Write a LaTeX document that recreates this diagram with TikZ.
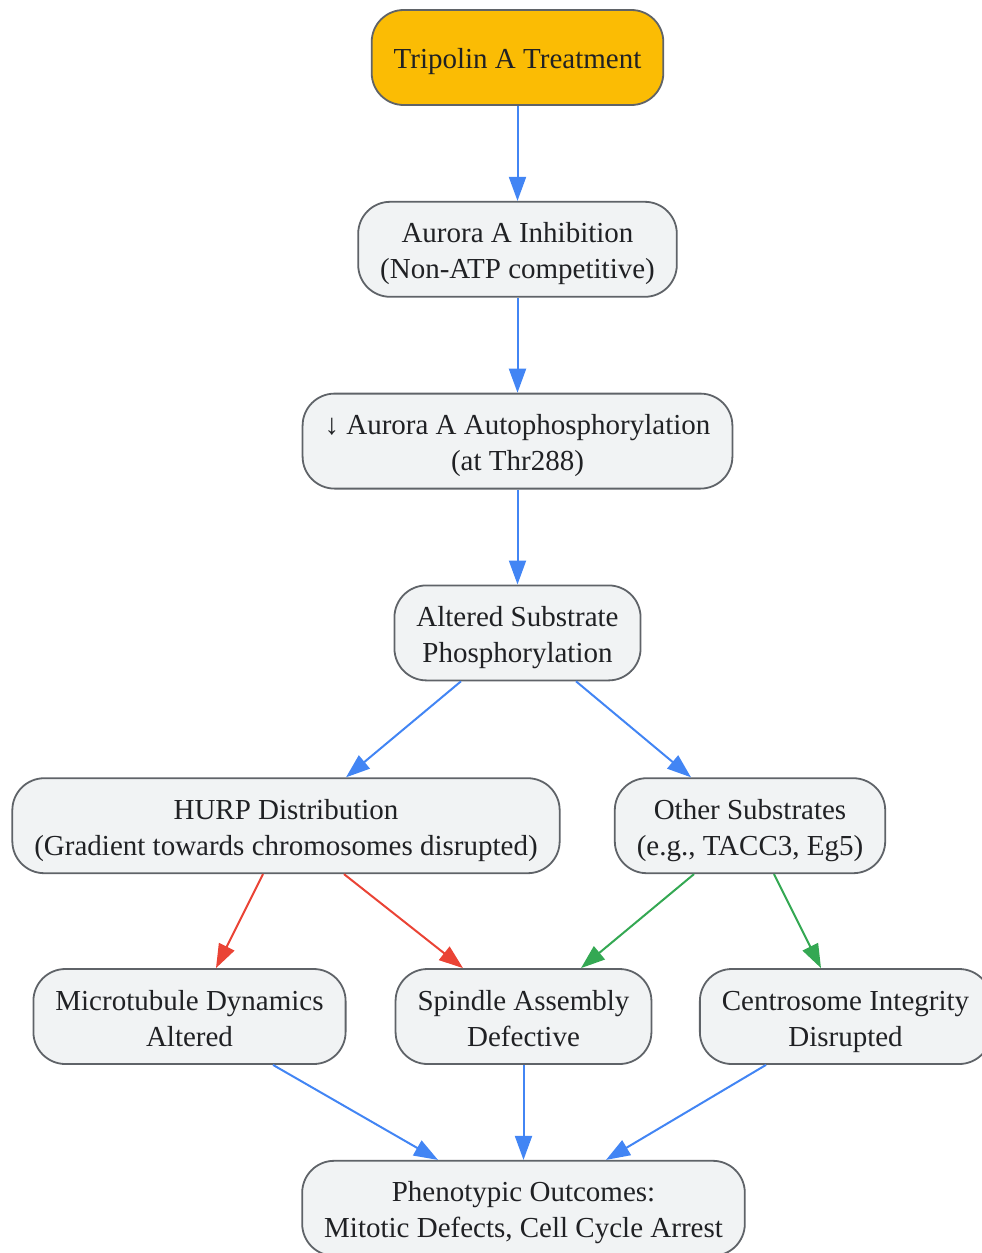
\documentclass[tikz,border=0pt]{standalone}
\usepackage{fontspec}
\setmainfont{Liberation Serif}
\usetikzlibrary{positioning,arrows.meta}

\definecolor{boxfill}{HTML}{F1F3F4}
\definecolor{boxline}{HTML}{5F6368}
\definecolor{boxtext}{HTML}{202124}
\definecolor{startfill}{HTML}{FBBC04}
\definecolor{flowblue}{HTML}{4285F4}
\definecolor{flowred}{HTML}{EA4335}
\definecolor{flowgreen}{HTML}{34A853}

\begin{document}
\begin{tikzpicture}[
            x=1pt, y=-1pt,
            basebox/.style={rectangle, rounded corners=32pt, draw=boxline, line width=1.8pt, fill=boxfill,
                text=boxtext, font=\fontsize{29}{36}\selectfont, inner xsep=22pt, inner ysep=0pt,
                minimum height=95pt, align=center,
                execute at end node={\rule[-7pt]{0pt}{7pt}}},
            block/.style={basebox, execute at begin node={\rule{0pt}{66pt}}},
            start/.style={basebox, fill=startfill, execute at begin node={\rule{0pt}{28pt}}},
            arrow/.style={-{Triangle[length=24pt,width=17pt]}, line width=2pt, flowblue},
            redarrow/.style={arrow, flowred},
            greenarrow/.style={arrow, flowgreen}
        ]
        \useasboundingbox (0,0) rectangle (982,1253);
        \node[start] (tripolin) at (517.5,57.5) {Tripolin A Treatment};
        \node[block, below=95pt of tripolin] (inhib) {Aurora A Inhibition \\ (Non-ATP competitive)};
        \node[block, below=95pt of inhib] (autop) {↓ Aurora A Autophosphorylation \\ (at Thr288)};
        \node[block, below=95pt of autop] (altered) {Altered Substrate \\ Phosphorylation};
        \node[block, below=96pt of altered, xshift=-231.5pt] (hurp) {HURP Distribution \\ (Gradient towards chromosomes disrupted)};
        \node[block, below=96pt of altered, xshift=232.5pt] (other) {Other Substrates \\ (e.g., TACC3, Eg5)};
        \node[block, below=94pt of hurp, xshift=-96.5pt] (micro) {Microtubule Dynamics \\ Altered};
        \node[block, below=94pt of hurp, xshift=237.5pt] (spindle) {Spindle Assembly \\ Defective};
        \node[block, below=94pt of other, xshift=95.5pt] (centro) {Centrosome Integrity \\ Disrupted};
        \node[block, below=95pt of spindle] (pheno) {Phenotypic Outcomes: \\ Mitotic Defects, Cell Cycle Arrest};
        \draw[arrow] (tripolin) -- (inhib);
        \draw[arrow] (inhib) -- (autop);
        \draw[arrow] (autop) -- (altered);
        \draw[arrow] ([xshift=-56.5pt]altered.south) -- ([xshift=60pt]hurp.north);
        \draw[arrow] ([xshift=58.5pt]altered.south) -- ([xshift=-59pt]other.north);
        \draw[redarrow] ([xshift=-23pt]hurp.south) -- ([xshift=26.5pt]micro.north);
        \draw[redarrow] ([xshift=58pt]hurp.south) -- ([xshift=-60.5pt]spindle.north);
        \draw[greenarrow] ([xshift=-56pt]other.south) -- ([xshift=57.5pt]spindle.north);
        \draw[greenarrow] ([xshift=24pt]other.south) -- ([xshift=-24.5pt]centro.north);
        \draw[arrow] ([xshift=83.5pt]micro.south) -- ([xshift=-85.5pt]pheno.north);
        \draw[arrow] (spindle) -- (pheno);
        \draw[arrow] ([xshift=-79.5pt]centro.south) -- ([xshift=82.5pt]pheno.north);
        \end{tikzpicture}
\end{document}
